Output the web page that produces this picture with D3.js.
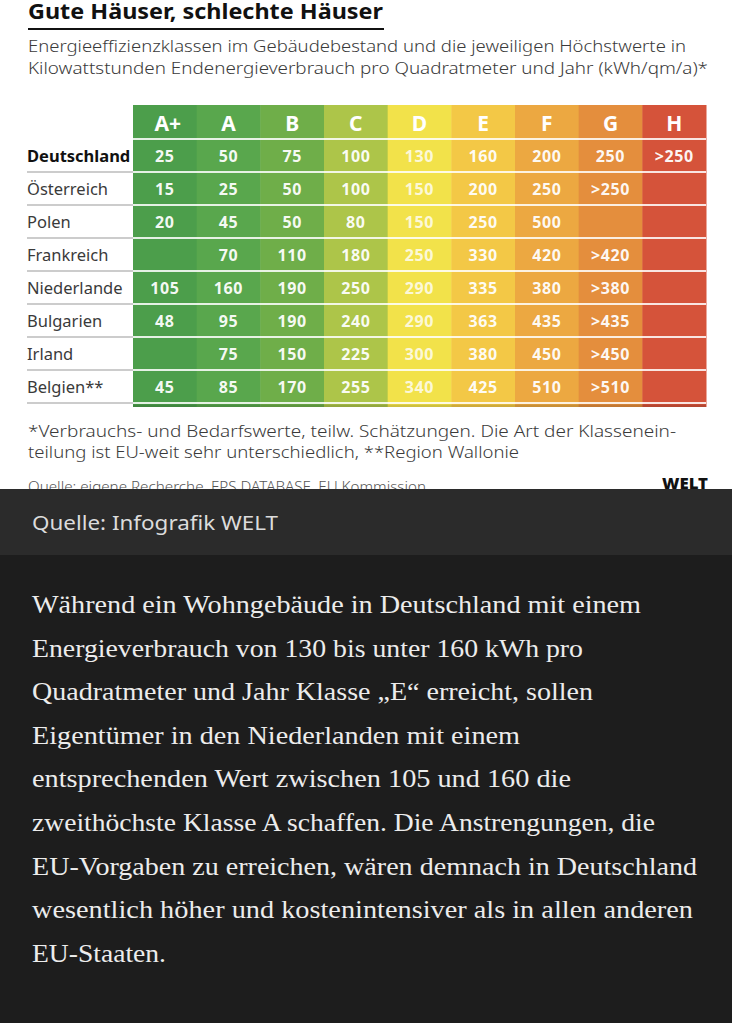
<!DOCTYPE html>
<html>
<head>
<meta charset="utf-8">
<script src="https://cdn.jsdelivr.net/npm/d3@7"></script>
<style>
  html, body { margin: 0; padding: 0; background: #1d1d1d; }
  svg { display: block; }
</style>
</head>
<body>
<div id="chart"></div>
<script>
// Energieklassen (Spalten)
const classes = ["A+", "A", "B", "C", "D", "E", "F", "G", "H"]
const classColors = ["#4c9e4b", "#59a74d", "#6fae49", "#adc549", "#f2e24a", "#f3c846", "#eca841", "#e48e3d", "#d5533a"]

// Länder (Zeilen)
const countries = ["Deutschland", "Österreich", "Polen", "Frankreich", "Niederlande", "Bulgarien", "Irland", "Belgien**"]

// Höchstwerte je Klasse in kWh/qm/a, "" = keine Klasse
const deutschland = ["25", "50", "75", "100", "130", "160", "200", "250", ">250"]
const oesterreich = ["15", "25", "50", "100", "150", "200", "250", ">250", ""]
const polen       = ["20", "45", "50", "80", "150", "250", "500", "", ""]
const frankreich  = ["", "70", "110", "180", "250", "330", "420", ">420", ""]
const niederlande = ["105", "160", "190", "250", "290", "335", "380", ">380", ""]
const bulgarien   = ["48", "95", "190", "240", "290", "363", "435", ">435", ""]
const irland      = ["", "75", "150", "225", "300", "380", "450", ">450", ""]
const belgien     = ["45", "85", "170", "255", "340", "425", "510", ">510", ""]
const values = [deutschland, oesterreich, polen, frankreich, niederlande, bulgarien, irland, belgien]

// Texte
const title = "Gute Häuser, schlechte Häuser"
const subtitle = [
  "Energieeffizienzklassen im Gebäudebestand und die jeweiligen Höchstwerte in",
  "Kilowattstunden Endenergieverbrauch pro Quadratmeter und Jahr (kWh/qm/a)*"
]
const footnote = [
  "*Verbrauchs- und Bedarfswerte, teilw. Schätzungen. Die Art der Klassenein-",
  "teilung ist EU-weit sehr unterschiedlich, **Region Wallonie"
]
const source = "Quelle: eigene Recherche, EPS DATABASE, EU Kommission"
const caption = "Quelle: Infografik WELT"
const paragraph = [
  "Während ein Wohngebäude in Deutschland mit einem",
  "Energieverbrauch von 130 bis unter 160 kWh pro",
  "Quadratmeter und Jahr Klasse „E“ erreicht, sollen",
  "Eigentümer in den Niederlanden mit einem",
  "entsprechenden Wert zwischen 105 und 160 die",
  "zweithöchste Klasse A schaffen. Die Anstrengungen, die",
  "EU-Vorgaben zu erreichen, wären demnach in Deutschland",
  "wesentlich höher und kostenintensiver als in allen anderen",
  "EU-Staaten."
]
// Zeilenbreiten des Fließtextes (Layout)
const paragraphWidths = [609, 551, 561, 488, 539, 623, 665, 661, 134]

const width = 732
const height = 1023
const sans = "'Noto Sans', 'Open Sans', sans-serif"

const svg = d3.select("#chart")
  .append("svg")
  .attr("width", width)
  .attr("height", height)

// Hintergründe
svg.append("rect").attr("x", 0).attr("y", 0).attr("width", width).attr("height", 489).attr("fill", "#ffffff")

// Titel + Linie
svg.append("text")
  .attr("x", 28).attr("y", 19)
  .attr("font-family", sans).attr("font-weight", 700).attr("font-size", 22)
  .attr("fill", "#111")
  .attr("textLength", 355).attr("lengthAdjust", "spacingAndGlyphs")
  .text(title)

svg.append("line")
  .attr("x1", 28).attr("x2", 384).attr("y1", 29).attr("y2", 29)
  .attr("stroke", "#111").attr("stroke-width", 2)

// Untertitel
const subWidths = [658, 680]
svg.selectAll(".subtitle")
  .data(subtitle)
  .enter()
  .append("text")
  .attr("class", "subtitle")
  .attr("x", 28)
  .attr("y", (d, i) => 52 + i * 21.5)
  .attr("font-family", sans).attr("font-weight", 300).attr("font-size", 16)
  .attr("fill", "#3a3a3a")
  .attr("textLength", (d, i) => subWidths[i]).attr("lengthAdjust", "spacingAndGlyphs")
  .text(d => d)

// Skalen für die Tabelle
const tableLeft = 133
const tableRight = 706
const headerTop = 105
const headerBottom = 139
const rowHeight = 33

const xScale = d3.scaleBand()
  .domain(classes)
  .range([tableLeft, tableRight])

const yScale = d3.scaleBand()
  .domain(countries)
  .range([headerBottom, headerBottom + rowHeight * countries.length])

const color = d3.scaleOrdinal().domain(classes).range(classColors)

const tableBottom = yScale.range()[1]

// Farbspalten
svg.selectAll(".col")
  .data(classes)
  .enter()
  .append("rect")
  .attr("class", "col")
  .attr("x", d => xScale(d))
  .attr("y", headerTop)
  .attr("width", xScale.bandwidth() + 0.5)
  .attr("height", tableBottom + 4 - headerTop)
  .attr("fill", d => color(d))

// dunkle Kante unten
svg.append("rect")
  .attr("x", tableLeft).attr("y", tableBottom + 1.5)
  .attr("width", tableRight - tableLeft).attr("height", 2.5)
  .attr("fill", "#000").attr("opacity", 0.15)

// weiße Trennlinien zwischen den Zeilen
svg.selectAll(".sep")
  .data(countries)
  .enter()
  .append("line")
  .attr("class", "sep")
  .attr("x1", tableLeft).attr("x2", tableRight)
  .attr("y1", d => yScale(d)).attr("y2", d => yScale(d))
  .attr("stroke", "#fff").attr("stroke-opacity", 0.85).attr("stroke-width", 1.8)

svg.append("line")
  .attr("x1", tableLeft).attr("x2", tableRight)
  .attr("y1", tableBottom).attr("y2", tableBottom)
  .attr("stroke", "#fff").attr("stroke-opacity", 0.85).attr("stroke-width", 1.8)

// graue Linien unter den Ländernamen
svg.selectAll(".rowline")
  .data(countries)
  .enter()
  .append("line")
  .attr("class", "rowline")
  .attr("x1", 27).attr("x2", tableLeft)
  .attr("y1", d => yScale(d) + yScale.bandwidth()).attr("y2", d => yScale(d) + yScale.bandwidth())
  .attr("stroke", "#9a9a9a").attr("stroke-width", 1.2)

// Klassen-Kopfzeile
svg.selectAll(".head")
  .data(classes)
  .enter()
  .append("text")
  .attr("class", "head")
  .attr("x", d => xScale(d) + xScale.bandwidth() / 2 + (d === "A+" ? 3 : 0))
  .attr("y", headerTop + 26)
  .attr("text-anchor", "middle")
  .attr("font-family", sans).attr("font-weight", 700).attr("font-size", 21)
  .attr("fill", "#fff")
  .text(d => d)

// Ländernamen
svg.selectAll(".country")
  .data(countries)
  .enter()
  .append("text")
  .attr("class", "country")
  .attr("x", 27)
  .attr("y", d => yScale(d) + yScale.bandwidth() / 2 + 6)
  .attr("font-family", sans)
  .attr("font-weight", (d, i) => i === 0 ? 700 : 400)
  .attr("font-size", 16.5)
  .attr("fill", (d, i) => i === 0 ? "#111" : "#3a3a3a")
  .text(d => d)

// Werte
const cells = []
values.forEach((row, r) => {
  row.forEach((v, c) => {
    if (v !== "") cells.push({ country: countries[r], cls: classes[c], value: v })
  })
})

svg.selectAll(".value")
  .data(cells)
  .enter()
  .append("text")
  .attr("class", "value")
  .attr("x", d => xScale(d.cls) + xScale.bandwidth() / 2)
  .attr("y", d => yScale(d.country) + yScale.bandwidth() / 2 + 6)
  .attr("text-anchor", "middle")
  .attr("font-family", sans).attr("font-weight", 700).attr("font-size", 16)
  .attr("letter-spacing", 0.6)
  .attr("fill", "#fff")
  .attr("fill-opacity", d => d.cls === "D" ? 0.8 : 0.95)
  .text(d => d.value)

// Fußnote
const footWidths = [648, 491]
svg.selectAll(".foot")
  .data(footnote)
  .enter()
  .append("text")
  .attr("class", "foot")
  .attr("x", 28)
  .attr("y", (d, i) => 437 + i * 20.5)
  .attr("font-family", sans).attr("font-weight", 300).attr("font-size", 16)
  .attr("fill", "#3a3a3a")
  .attr("textLength", (d, i) => footWidths[i]).attr("lengthAdjust", "spacingAndGlyphs")
  .text(d => d)

// Quelle (unten angeschnitten)
svg.append("text")
  .attr("x", 28).attr("y", 492)
  .attr("font-family", sans).attr("font-weight", 300).attr("font-size", 14)
  .attr("fill", "#555")
  .attr("textLength", 398).attr("lengthAdjust", "spacingAndGlyphs")
  .text(source)

svg.append("text")
  .attr("x", 708).attr("y", 489)
  .attr("text-anchor", "end")
  .attr("font-family", sans).attr("font-weight", 900).attr("font-size", 16)
  .attr("fill", "#111")
  .attr("textLength", 46).attr("lengthAdjust", "spacingAndGlyphs")
  .text("WELT")

// dunkle Bänder
svg.append("rect").attr("x", 0).attr("y", 489).attr("width", width).attr("height", 66).attr("fill", "#2b2b2b")
svg.append("rect").attr("x", 0).attr("y", 555).attr("width", width).attr("height", height - 555).attr("fill", "#1d1d1d")

svg.append("text")
  .attr("x", 32).attr("y", 530)
  .attr("font-family", sans).attr("font-weight", 400).attr("font-size", 19)
  .attr("fill", "#dcdcdc")
  .attr("textLength", 246).attr("lengthAdjust", "spacingAndGlyphs")
  .text(caption)

// Fließtext
svg.selectAll(".para")
  .data(paragraph)
  .enter()
  .append("text")
  .attr("class", "para")
  .attr("x", 32)
  .attr("y", (d, i) => 613 + i * 43.6)
  .attr("font-family", "'Liberation Serif', 'DejaVu Serif', serif")
  .attr("font-size", 26)
  .attr("fill", "#ececec")
  .attr("textLength", (d, i) => paragraphWidths[i]).attr("lengthAdjust", "spacingAndGlyphs")
  .text(d => d)
</script>
</body>
</html>
